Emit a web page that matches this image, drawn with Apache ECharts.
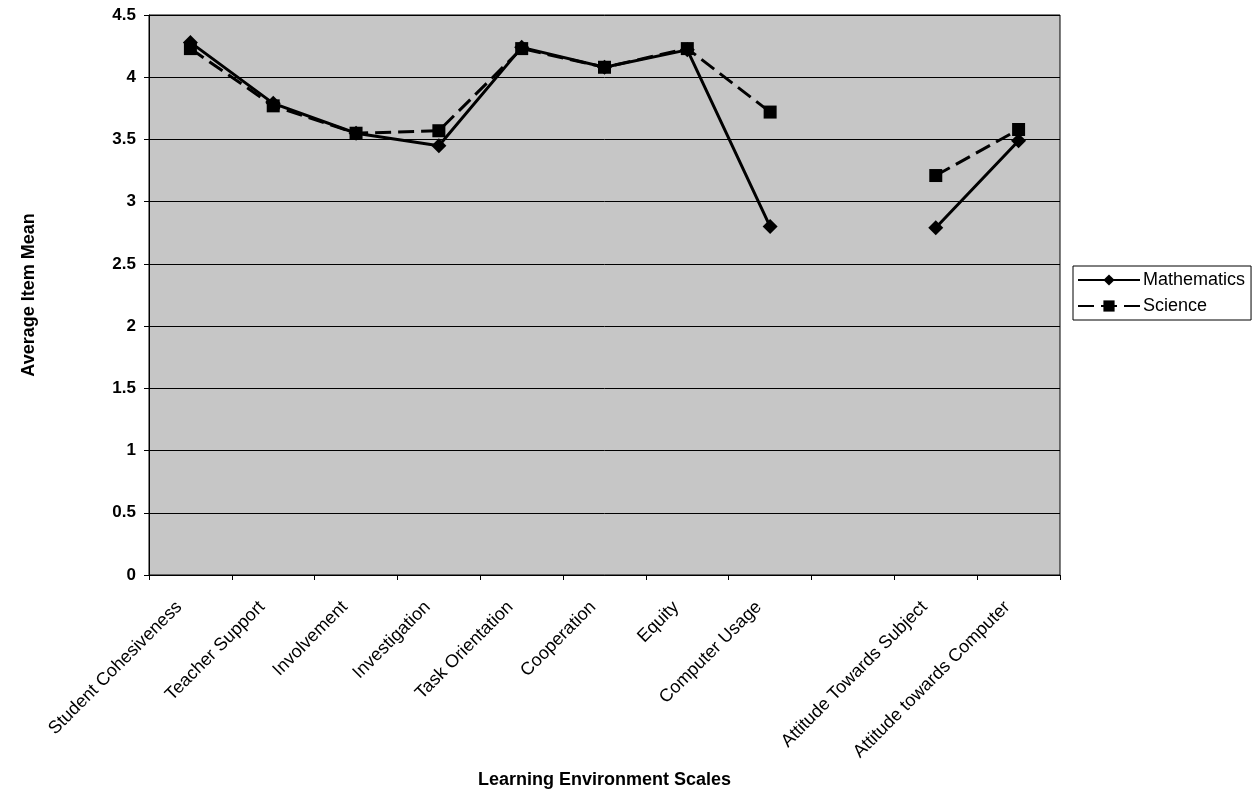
<!DOCTYPE html>
<html>
<head>
<meta charset="utf-8">
<script src="https://cdn.jsdelivr.net/npm/echarts@6/dist/echarts.min.js"></script>
<style>
  html, body { margin: 0; padding: 0; background: #fff; }
  #chart { width: 1259px; height: 794px; }
</style>
</head>
<body>
<div id="chart"></div>
<script>
// Learning environment scales (one slot left blank between the two groups)
const scales = [
  'Student Cohesiveness', 'Teacher Support', 'Involvement', 'Investigation',
  'Task Orientation', 'Cooperation', 'Equity', 'Computer Usage', '',
  'Attitude Towards Subject', 'Attitude towards Computer'
];

// Average item means per scale
const mathematics = [4.28, 3.79, 3.55, 3.45, 4.24, 4.08, 4.22, 2.80, null, 2.79, 3.49];
const science     = [4.23, 3.77, 3.55, 3.57, 4.23, 4.08, 4.23, 3.72, null, 3.21, 3.58];

// Value axis ticks
const yMin = 0, yMax = 4.5, yStep = 0.5;

const FONT = '"Liberation Sans", Arial, sans-serif';

const chart = echarts.init(document.getElementById('chart'), null, { renderer: 'canvas' });

chart.setOption({
  animation: false,
  backgroundColor: '#ffffff',
  textStyle: { fontFamily: FONT, color: '#000' },
  grid: {
    left: 149, right: 199, top: 15, bottom: 216,
    show: true,
    backgroundColor: '#c6c6c6',
    borderColor: '#000',
    borderWidth: 1
  },
  legend: {
    orient: 'vertical',
    left: 1073, top: 266,
    padding: [5, 6, 5, 4],
    itemWidth: 62, itemHeight: 14, itemGap: 8,
    borderColor: '#000', borderWidth: 1,
    backgroundColor: '#fff',
    textStyle: { fontFamily: FONT, fontSize: 18, color: '#000', padding: [0, 0, 0, -2] },
    data: ['Mathematics', 'Science']
  },
  xAxis: {
    type: 'category',
    data: scales,
    boundaryGap: true,
    name: 'Learning Environment Scales',
    nameLocation: 'middle',
    nameGap: 196,
    nameTextStyle: { fontFamily: FONT, fontSize: 18, fontWeight: 'bold', color: '#000' },
    axisLine: { lineStyle: { color: '#000', width: 1 } },
    axisTick: { show: true, length: 5, lineStyle: { color: '#000' } },
    axisLabel: {
      interval: 0, rotate: 45, margin: 18,
      padding: [0, 16, 0, 0],
      fontFamily: FONT, fontSize: 18, color: '#000'
    },
    splitLine: { show: false }
  },
  yAxis: {
    type: 'value',
    min: yMin, max: yMax, interval: yStep,
    name: 'Average Item Mean',
    nameLocation: 'middle',
    nameGap: 111,
    nameRotate: 90,
    nameTextStyle: { fontFamily: FONT, fontSize: 18, fontWeight: 'bold', color: '#000' },
    axisLine: { show: true, lineStyle: { color: '#000', width: 1 } },
    axisTick: { show: true, length: 5, lineStyle: { color: '#000' } },
    axisLabel: { margin: 13, fontFamily: FONT, fontSize: 17, fontWeight: 'bold', color: '#000' },
    splitLine: { show: true, lineStyle: { color: '#000', width: 1 } }
  },
  series: [
    {
      name: 'Mathematics',
      type: 'line',
      data: mathematics,
      connectNulls: false,
      symbol: 'diamond',
      symbolSize: 15,
      itemStyle: { color: '#000' },
      lineStyle: { color: '#000', width: 3, type: 'solid' },
      z: 2
    },
    {
      name: 'Science',
      type: 'line',
      data: science,
      connectNulls: false,
      symbol: 'rect',
      symbolSize: 13,
      itemStyle: { color: '#000' },
      lineStyle: { color: '#000', width: 3, type: [16, 7] },
      z: 3
    }
  ]
});
</script>
</body>
</html>
